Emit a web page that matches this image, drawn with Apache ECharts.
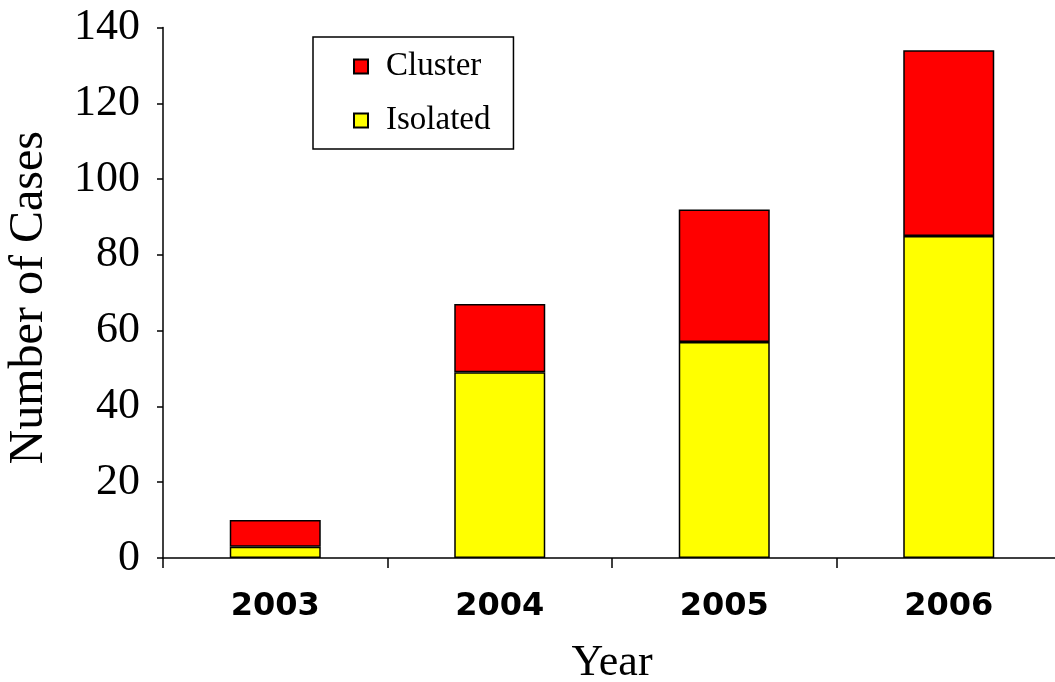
<!DOCTYPE html>
<html>
<head>
<meta charset="utf-8">
<script src="https://cdn.jsdelivr.net/npm/echarts@6/dist/echarts.min.js"></script>
<style>
html,body{margin:0;padding:0;background:#fff;}
#main{width:1055px;height:682px;}
</style>
</head>
<body>
<div id="main"></div>
<script>
var categories = ['2003', '2004', '2005', '2006'];
var isolated = [3, 49, 57, 85];
var cluster = [7, 18, 35, 49];
var yTicks = [0, 20, 40, 60, 80, 100, 120, 140];

var serif = '"Liberation Serif", "Times New Roman", serif';
var chart = echarts.init(document.getElementById('main'), null, {renderer: 'canvas'});
chart.setOption({
  animation: false,
  backgroundColor: '#ffffff',
  grid: {left: 163, right: -6, top: 27.5, bottom: 124, containLabel: false, outerBoundsMode: 'none'},
  legend: {
    data: ['Cluster', 'Isolated'],
    orient: 'vertical',
    left: 313, top: 37,
    padding: [13, 23, 12, 40],
    itemGap: 21,
    itemWidth: 14, itemHeight: 14,
    icon: 'rect',
    borderColor: '#000', borderWidth: 1.5,
    textStyle: {fontFamily: serif, fontSize: 33, color: '#000', lineHeight: 32, padding: [0, 0, 0, 13]}
  },
  xAxis: {
    type: 'category',
    data: categories,
    name: 'Year',
    nameLocation: 'middle',
    nameGap: 83,
    nameTextStyle: {fontFamily: serif, fontSize: 44, color: '#000'},
    axisLine: {lineStyle: {color: '#000', width: 1.5}},
    axisTick: {show: true, length: 10, lineStyle: {color: '#000', width: 1.5}},
    axisLabel: {fontFamily: '"DejaVu Sans", Verdana, sans-serif', fontWeight: 'bold', fontSize: 32, color: '#000', margin: 33}
  },
  yAxis: {
    type: 'value',
    min: yTicks[0], max: yTicks[yTicks.length - 1], interval: 20,
    name: 'Number of Cases',
    nameLocation: 'middle',
    nameGap: 110,
    nameRotate: 90,
    nameTextStyle: {fontFamily: serif, fontSize: 48, color: '#000', padding: [0, 10, 0, 0]},
    axisLine: {show: true, lineStyle: {color: '#000', width: 1.5}},
    axisTick: {show: true, length: 6, lineStyle: {color: '#000', width: 1.5}},
    axisLabel: {fontFamily: serif, fontSize: 44, color: '#000', margin: 23},
    splitLine: {show: false}
  },
  series: [
    {
      name: 'Isolated', type: 'bar', stack: 'total', data: isolated,
      barWidth: 91,
      itemStyle: {color: '#ffff00', borderColor: '#000', borderWidth: 1.5}
    },
    {
      name: 'Cluster', type: 'bar', stack: 'total', data: cluster,
      barWidth: 91,
      itemStyle: {color: '#ff0000', borderColor: '#000', borderWidth: 1.5}
    }
  ]
});
</script>
</body>
</html>
